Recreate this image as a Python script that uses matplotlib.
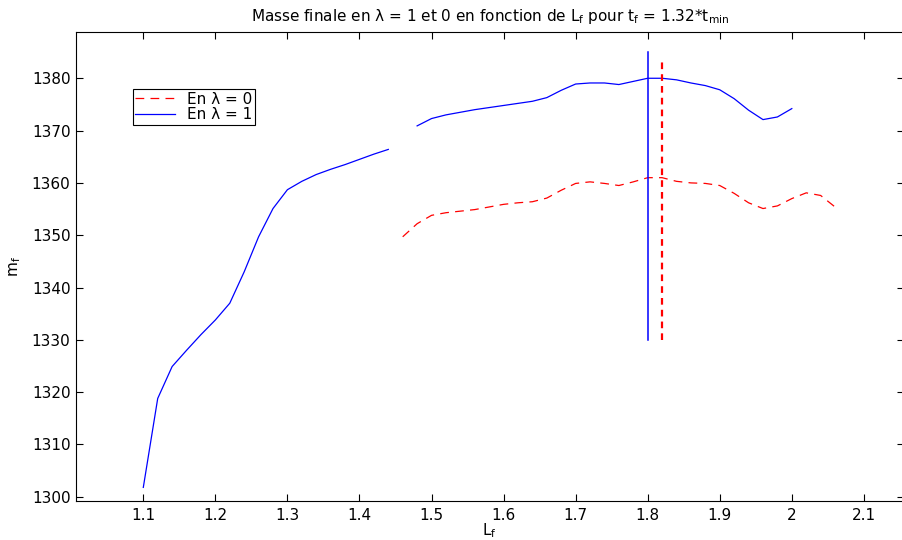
import numpy as np
import matplotlib
matplotlib.use("Agg")
import matplotlib.pyplot as plt

plt.rcParams["font.family"] = ["DejaVu Sans"]
plt.rcParams["mathtext.fontset"] = "dejavusans"

# lambda = 1 curve (gap at 1.46)
lf_1 = [1.10, 1.12, 1.14, 1.16, 1.18, 1.20, 1.22, 1.24, 1.26, 1.28, 1.30, 1.32,
        1.34, 1.36, 1.38, 1.40, 1.42, 1.44, 1.46, 1.48, 1.50, 1.52, 1.54, 1.56,
        1.58, 1.60, 1.62, 1.64, 1.66, 1.68, 1.70, 1.72, 1.74, 1.76, 1.78, 1.80,
        1.82, 1.84, 1.86, 1.88, 1.90, 1.92, 1.94, 1.96, 1.98, 2.00]
mf_1 = [1301.8, 1318.8, 1324.9, 1328.0, 1331.0, 1333.8, 1337.0, 1343.0, 1349.7,
        1355.1, 1358.7, 1360.3, 1361.6, 1362.6, 1363.5, 1364.5, 1365.5, 1366.4,
        np.nan, 1370.9, 1372.3, 1373.0, 1373.5, 1374.0, 1374.4, 1374.8, 1375.2,
        1375.6, 1376.3, 1377.7, 1378.9, 1379.1, 1379.1, 1378.8, 1379.4, 1380.0,
        1380.0, 1379.7, 1379.1, 1378.6, 1377.8, 1376.1, 1373.9, 1372.1, 1372.6,
        1374.2]

# lambda = 0 curve
lf_0 = [1.46, 1.48, 1.50, 1.52, 1.54, 1.56, 1.58, 1.60, 1.62, 1.64, 1.66, 1.68,
        1.70, 1.72, 1.74, 1.76, 1.78, 1.80, 1.82, 1.84, 1.86, 1.88, 1.90, 1.92,
        1.94, 1.96, 1.98, 2.00, 2.02, 2.04, 2.06]
mf_0 = [1349.7, 1352.2, 1353.8, 1354.3, 1354.6, 1354.9, 1355.4, 1355.9, 1356.2,
        1356.4, 1357.1, 1358.6, 1359.9, 1360.2, 1359.9, 1359.5, 1360.2, 1361.0,
        1361.0, 1360.3, 1360.0, 1359.9, 1359.5, 1358.0, 1356.2, 1355.1, 1355.6,
        1357.0, 1358.1, 1357.6, 1355.4]

# optimum markers
opt_1 = 1.80
opt_0 = 1.82
vline_1 = [1330, 1385]
vline_0 = [1330, 1383.5]

fig = plt.figure(figsize=(9.03, 5.40), dpi=100)
ax = fig.add_axes([76 / 903, 39 / 540, 827.5 / 903, 469.3 / 540])

ax.plot(lf_0, mf_0, color="red", linestyle=(0, (7, 5)), linewidth=0.9,
        label="En λ = 0")
ax.plot(lf_1, mf_1, color="blue", linewidth=0.9, label="En λ = 1")
ax.plot([opt_1, opt_1], vline_1, color="blue", linewidth=1.1)
ax.plot([opt_0, opt_0], vline_0, color="red", linestyle=(0, (3, 2.3)),
        linewidth=1.6)

ax.set_xlim(1.0066, 2.155)
ax.set_ylim(1299.2, 1388.9)
ax.set_xticks(np.arange(1.1, 2.15, 0.1))
ax.set_xticklabels(["1.1", "1.2", "1.3", "1.4", "1.5", "1.6", "1.7", "1.8",
                    "1.9", "2", "2.1"])
ax.set_yticks(np.arange(1300, 1381, 10))
ax.tick_params(direction="in", top=True, right=True, length=5, width=0.8,
               labelsize=11)
ax.tick_params(axis="y", pad=4)
ax.tick_params(axis="x", pad=5)
for sp in ax.spines.values():
    sp.set_linewidth(0.8)

ax.set_title(r"Masse finale en λ = 1 et 0 en fonction de L$_\mathregular{f}$"
             r" pour t$_\mathregular{f}$ = 1.32*t$_\mathregular{min}$",
             fontsize=11, pad=8)
ax.set_xlabel(r"L$_\mathregular{f}$", fontsize=11, labelpad=-1)
ax.set_ylabel(r"m$_\mathregular{f}$", fontsize=11, labelpad=6)

leg = ax.legend(loc="upper left", bbox_to_anchor=(57 / 827.5, 1 - 57.6 / 469.3),
                fancybox=False, edgecolor="black", framealpha=1,
                borderpad=0.15, handlelength=2.6, handletextpad=0.8,
                labelspacing=0.05, fontsize=11, borderaxespad=0)
leg.get_frame().set_linewidth(0.8)

fig.savefig("out.png", dpi=100)
